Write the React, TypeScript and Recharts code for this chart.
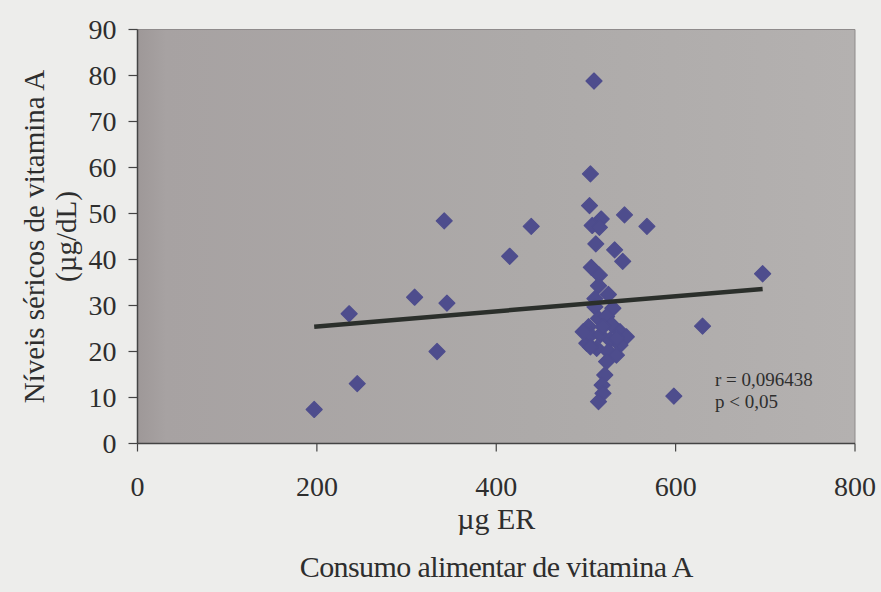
import React from "react";
import {
  ScatterChart,
  Scatter,
  XAxis,
  YAxis,
  CartesianGrid,
  ReferenceArea,
} from "recharts";

// consumo (µg ER) x níveis séricos (µg/dL)
const intake = [
  197, 245, 236, 309, 345, 334, 342, 415, 439, 509, 505, 504, 543, 568, 517, 507, 515,
  511, 532, 541, 506, 515, 514, 525, 510, 530, 510, 503, 501, 514, 523, 529, 538, 545,
  505, 516, 527, 538, 512, 525, 534, 523, 497, 519, 534, 505, 521, 518, 519, 514, 598,
  630, 697,
];
const serum = [
  7.4, 13, 28.2, 31.8, 30.5, 20, 48.4, 40.7, 47.2, 78.8, 58.6, 51.7, 49.7, 47.2, 48.8,
  47.4, 47, 43.4, 42.1, 39.6, 38.3, 36.6, 34.3, 32.4, 31.5, 29.4, 29.7, 25.4, 21.8, 27.2,
  27.6, 25.8, 24.3, 23.2, 23.6, 23.6, 22.5, 21.4, 20.7, 20, 19.2, 17.8, 24.3, 25.4, 22.9,
  21, 14.9, 12.7, 10.9, 9.1, 10.3, 25.5, 36.9,
];
const trendX = [197, 697];
const trendY = [25.4, 33.6];

const xTicks = [0, 200, 400, 600, 800];
const yTicks = [0, 10, 20, 30, 40, 50, 60, 70, 80, 90];

const points = intake.map((x, i) => ({ x, y: serum[i] }));
const trend = trendX.map((x, i) => ({ x, y: trendY[i] }));

const FONT = "Liberation Serif";
const TEXT = "#2e2e2e";

const Diamond = (props: any) => {
  const { cx, cy } = props;
  const r = 8;
  return (
    <path
      d={`M${cx},${cy - r}L${cx + r},${cy}L${cx},${cy + r}L${cx - r},${cy}Z`}
      fill="#4e4d8d"
      stroke="#4e4d8d"
      strokeWidth={1.2}
      strokeLinejoin="round"
    />
  );
};

const XTitle = (props: any) => {
  const { x, y, width } = props.viewBox;
  const cx = x + width / 2;
  return (
    <g style={{ fontFamily: FONT }} fill={TEXT} fontSize={30} textAnchor="middle">
      <text x={cx} y={y + 85}>µg ER</text>
      <text x={cx} y={y + 133} letterSpacing={-0.6}>
        Consumo alimentar de vitamina A
      </text>
    </g>
  );
};

const YTitle = (props: any) => {
  const { y, height } = props.viewBox;
  const cy = y + height / 2;
  return (
    <g style={{ fontFamily: FONT }} fill={TEXT} fontSize={29} textAnchor="middle">
      <text x={34} y={cy} dy={10} transform={`rotate(-90, 34, ${cy})`}>
        Níveis séricos de vitamina A
      </text>
      <text x={66} y={cy} dy={10} transform={`rotate(-90, 66, ${cy})`}>
        (µg/dL)
      </text>
    </g>
  );
};

export default function App() {
  return (
    <div
      style={{
        position: "absolute",
        left: 0,
        top: 0,
        width: 881,
        height: 592,
        background: "#ededeb",
        fontFamily: FONT,
      }}
    >
      <ScatterChart
        width={881}
        height={592}
        margin={{ top: 29.5, right: 26, bottom: 0, left: 0 }}
        style={{ fontFamily: FONT }}
      >
        <defs>
          <linearGradient id="plotBg" x1="0" y1="0" x2="1" y2="0">
            <stop offset="0%" stopColor="#9e9898" />
            <stop offset="4%" stopColor="#a7a2a2" />
            <stop offset="55%" stopColor="#adaaa9" />
            <stop offset="100%" stopColor="#b4b1b0" />
          </linearGradient>
        </defs>
        <CartesianGrid horizontal={false} vertical={false} fill="url(#plotBg)" />
        <ReferenceArea
          x1={0}
          x2={800}
          y1={0}
          y2={90}
          fill="none"
          stroke="#8f8b8b"
          strokeWidth={1}
        />
        <XAxis
          type="number"
          dataKey="x"
          domain={[0, 800]}
          ticks={xTicks}
          height={148.5}
          tickSize={8}
          tickMargin={25}
          axisLine={{ stroke: "#444", strokeWidth: 1.5 }}
          tickLine={{ stroke: "#444", strokeWidth: 1.2 }}
          tick={{ fontSize: 28, fontFamily: FONT, fill: TEXT }}
          label={<XTitle />}
        />
        <YAxis
          type="number"
          dataKey="y"
          domain={[0, 90]}
          ticks={yTicks}
          width={137.5}
          tickSize={9}
          tickMargin={12}
          axisLine={{ stroke: "#444", strokeWidth: 1.5 }}
          tickLine={{ stroke: "#444", strokeWidth: 1.2 }}
          tick={{ fontSize: 28, fontFamily: FONT, fill: TEXT }}
          label={<YTitle />}
        />
        <Scatter data={points} shape={<Diamond />} isAnimationActive={false} />
        <Scatter
          data={trend}
          line={{ stroke: "#2b2f2b", strokeWidth: 4.5 }}
          shape={() => <g />}
          isAnimationActive={false}
        />
        <text x={715} y={386} style={{ fontFamily: FONT }} fontSize={19} fill={TEXT}>
          r = 0,096438
        </text>
        <text x={715} y={408} style={{ fontFamily: FONT }} fontSize={19} fill={TEXT}>
          p &lt; 0,05
        </text>
      </ScatterChart>
    </div>
  );
}
